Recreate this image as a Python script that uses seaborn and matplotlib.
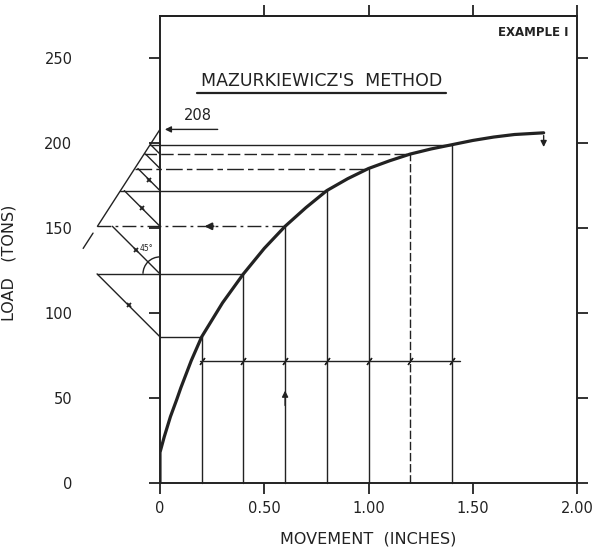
import numpy as np
import pandas as pd
import matplotlib
matplotlib.use('Agg')
import matplotlib.pyplot as plt
from matplotlib.patches import Arc
import seaborn as sns

# load - movement curve
movement_in = [0, 0, 0.02, 0.05, 0.08, 0.1, 0.15, 0.2, 0.3, 0.4, 0.5, 0.6, 0.7,
               0.8, 0.9, 1.0, 1.1, 1.2, 1.3, 1.4, 1.5, 1.6, 1.7, 1.84]
load_tons = [0, 18, 27, 39, 49, 56, 72, 86, 106, 123, 138, 151, 162,
             172, 179, 185, 189.5, 193.5, 196.5, 199, 201.5, 203.5, 205, 206]

# Mazurkiewicz construction: equal movement steps and the loads read at them
step_x = [0.2, 0.4, 0.6, 0.8, 1.0, 1.2, 1.4]
step_load = [86, 123, 151, 172, 185, 193.5, 199]
ultimate_load = 208
# straight line through the 45 deg intersections (meets load axis at 208)
fit_line_x = [0, -0.30]
fit_line_load = [208, 151]
base_line_load = 72

x_ticks = [0, 0.5, 1.0, 1.5, 2.0]
x_ticklabels = ['0', '0.50', '1.00', '1.50', '2.00']
top_ticks = [0.5, 1.0, 1.5, 2.0]
y_ticks = [0, 50, 100, 150, 200, 250]
y_ticklabels = ['0', '50', '100', '150', '200', '250']

sns.set_theme(style='white')
plt.rcParams['font.family'] = ['DejaVu Sans']

ink = '#222222'
ax_rect = [0.2662, 0.1218, 0.6939, 0.85]
fig = plt.figure(figsize=(6.01, 5.5), dpi=100)
ax = fig.add_axes(ax_rect)

df = pd.DataFrame({'movement': movement_in, 'load': load_tons})
sns.lineplot(data=df, x='movement', y='load', estimator=None, sort=False,
             color=ink, lw=2.3, ax=ax)

xmax, ymax = 2.0, 275
ax.set_xlim(0, xmax)
ax.set_ylim(0, ymax)

# inches of movement per ton, so that 45 deg is 45 deg on the paper
px_per_in = fig.get_figwidth() * ax_rect[2] / xmax
px_per_ton = fig.get_figheight() * ax_rect[3] / ymax
k = px_per_ton / px_per_in


def fit_x(p):
    return fit_line_x[1] * (fit_line_load[0] - p) / (fit_line_load[0] - fit_line_load[1])


thin = dict(color=ink, lw=1.0, clip_on=False)

# horizontal lines from load axis (or construction) to the curve
styles = {193.5: (0, (9, 3)), 185: (0, (12, 3, 4, 3)), 151: (0, (10, 3, 2, 3))}
for i, (sx, p) in enumerate(zip(step_x, step_load)):
    if p >= fit_line_load[1]:
        left = fit_x(p)
    elif i > 0:
        left = -(p - step_load[i - 1]) * k
    else:
        left = 0
    ax.plot([left, sx], [p, p], ls=styles.get(p, '-'), **thin)

# verticals at the equal movement steps
for sx, p in zip(step_x, step_load):
    ax.plot([sx, sx], [0, p], ls=(0, (6, 2)) if sx == 1.2 else '-', **thin)

# base line joining the verticals
ax.plot([step_x[0] - 0.01, step_x[-1] + 0.04], [base_line_load, base_line_load], **thin)
ax.plot(step_x, [base_line_load] * len(step_x), ls='none', marker=(2, 2, -35),
        ms=6, mew=1.0, color=ink, clip_on=False)

# 45 degree lines from each load to the next load level
for i in range(len(step_load) - 1):
    x1 = -(step_load[i + 1] - step_load[i]) * k
    ax.plot([0, x1], [step_load[i], step_load[i + 1]], **thin)
    if i < 4:
        ax.plot(x1 / 2, (step_load[i] + step_load[i + 1]) / 2, marker='x', ms=3.5,
                mew=1.3, color=ink, clip_on=False)

# line through intersections, and its extension
ax.plot(fit_line_x, fit_line_load, **thin)
ax.plot([fit_x(147), fit_x(138)], [147, 138], **thin)

# 45 deg arc and label
r = 17 / 100
ax.add_patch(Arc((0, step_load[1]), 2 * r / px_per_in, 2 * r / px_per_ton,
                 theta1=90, theta2=135, color=ink, lw=1.0, clip_on=False))
ax.text(-0.065, 138, '45°', fontsize=5.5, color=ink, ha='center', va='center')

# arrows
arr = dict(arrowstyle='-|>', color=ink, lw=1.0, mutation_scale=9)
ax.annotate('', xy=(0.01, ultimate_load), xytext=(0.29, ultimate_load), arrowprops=arr)
ax.text(0.183, 212, str(ultimate_load), fontsize=10.5, color=ink, ha='center', va='bottom')
ax.annotate('', xy=(0.2, 151), xytext=(0.27, 151),
            arrowprops=dict(arrowstyle='-|>', color=ink, lw=1.5, mutation_scale=10))
ax.annotate('', xy=(0.6, 56), xytext=(0.6, 44), arrowprops=arr)
ax.annotate('', xy=(movement_in[-1], 196), xytext=(movement_in[-1], load_tons[-1]),
            arrowprops=arr)

# titles
ax.text(0.775, 236.5, "MAZURKIEWICZ'S  METHOD", fontsize=12.5, color=ink,
        ha='center', va='center')
ax.plot([0.178, 1.37], [229.5, 229.5], color=ink, lw=1.6)
ax.text(1.96, 265, 'EXAMPLE I', fontsize=8.5, fontweight='bold', color=ink,
        ha='right', va='center')

# axes
ax.set_xticks(x_ticks, x_ticklabels)
ax.set_yticks(y_ticks, y_ticklabels)
ax.tick_params(direction='out', length=8, width=1.3, color=ink, labelcolor=ink,
               bottom=True, left=True, top=False, right=True,
               labeltop=False, labelright=False, labelsize=10.5)
ax.tick_params(axis='y', pad=55)
ax.tick_params(axis='x', pad=5)
for s in ax.spines.values():
    s.set_visible(True)
    s.set_color(ink)
    s.set_linewidth(1.4)

top = ax.secondary_xaxis('top')
top.set_xticks(top_ticks, [''] * len(top_ticks))
top.tick_params(direction='out', length=8, width=1.3, color=ink)
top.spines['top'].set_color(ink)
top.spines['top'].set_linewidth(1.4)

ax.set_xlabel('MOVEMENT  (INCHES)', fontsize=11.5, color=ink, labelpad=11)
ax.set_ylabel('LOAD   (TONS)', fontsize=11.5, color=ink)
ax.yaxis.set_label_coords(-0.343, 0.47)

fig.savefig('out.png', dpi=100)
